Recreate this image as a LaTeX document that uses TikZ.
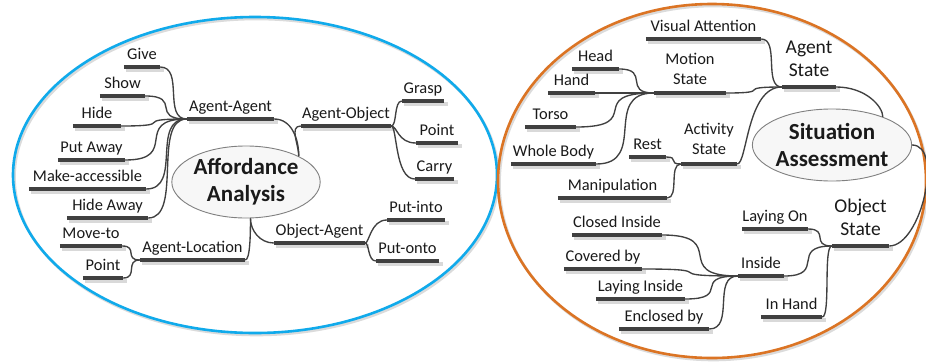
\documentclass[tikz,border=0pt]{standalone}
\usepackage{fontspec}
\setmainfont{Carlito}
\usetikzlibrary{shapes.geometric,calc}
\definecolor{barc}{HTML}{404040}
\definecolor{shadc}{HTML}{D9D9D9}
\definecolor{bluec}{HTML}{10AAEB}
\definecolor{orangec}{HTML}{DB7424}
\definecolor{txtc}{HTML}{1A1A1A}
\definecolor{rootfill}{HTML}{F7F7F7}
\newcommand{\fsN}{\fontsize{16.4}{20}\selectfont}
\newcommand{\fsL}{\fontsize{19.5}{23.5}\selectfont}
\newcommand{\fsB}{\bfseries\fontsize{23}{27}\selectfont}
\begin{document}
\begin{tikzpicture}[x=1pt,y=-1pt,
  barshadow/.style={draw=shadc, line width=4pt},
  barline/.style={draw=barc, line width=4.5pt},
  leaf/.style={font=\fsN, text=txtc, inner xsep=0pt, inner ysep=0pt,
    text depth=7.3pt, anchor=south, minimum width=#1, minimum height=0pt,
    append after command={
      ([xshift=2pt,yshift=-2.8pt]\tikzlastnode.south west) edge[barshadow]
      ([xshift=3.5pt,yshift=-2.8pt]\tikzlastnode.south east)
      (\tikzlastnode.south west) edge[barline] (\tikzlastnode.south east)}},
  two/.style={leaf=#1, align=center, text depth=8pt},
  big/.style={leaf=#1, align=center, font=\fsL, text depth=10pt},
  root/.style={ellipse, draw=black!50, line width=0.9pt, fill=rootfill,
    font=\fsB, text=txtc, align=center, inner sep=0pt},
  conn/.style={draw=barc, line width=1.35pt},
  mm/.style={to path={let \p1=(\tikztostart), \p2=(\tikztotarget),
    \n1={#1*(\x2-\x1)} in .. controls (\x1+\n1,\y1) and (\x2-\n1,\y2) .. (\tikztotarget)}},
  mm/.default=0.9,
  hv/.style 2 args={out=0,in=180,out distance=#1,in distance=#2}
]
\useasboundingbox (0,0) rectangle (926,362);
\fill[white] (0,0) rectangle (926,362);

% outer regions
\draw[black!14, line width=2.6pt] (256.5,177) ellipse [x radius=242, y radius=158];
\draw[bluec, line width=2.6pt] (255,175) ellipse [x radius=242, y radius=158];
\draw[black!14, line width=2.6pt] (713.5,183) ellipse [x radius=214, y radius=177];
\draw[orangec, line width=2.6pt] (712,181) ellipse [x radius=214, y radius=177];

% ---------- Affordance Analysis ----------
\node[root, minimum width=122, minimum height=72] (aff) at (246,182) {Affordance\\Analysis};

\node[leaf=36] (give) at (142,67) {Give};
\node[leaf=45] (show) at (122.5,96) {Show};
\node[leaf=48] (hide) at (97,126) {Hide};
\node[leaf=67] (putaway) at (91.5,160) {Put Away};
\node[leaf=117] (makeacc) at (87.5,189) {Make-accessible};
\node[leaf=81] (hideaway) at (107.5,218) {Hide Away};
\node[leaf=87] (aa) at (230.5,119) {Agent-Agent};
\node[leaf=90] (ao) at (346,126) {Agent-Object};
\node[leaf=42] (grasp) at (423,101) {Grasp};
\node[leaf=42] (pointa) at (437,143) {Point};
\node[leaf=39] (carry) at (434.5,179) {Carry};
\node[leaf=62] (moveto) at (91,246) {Move-to};
\node[leaf=40] (pointl) at (103,278) {Point};
\node[leaf=105] (al) at (192.5,260) {Agent-Location};
\node[leaf=91] (oa) at (319.5,243) {Object-Agent};
\node[leaf=58] (putinto) at (416,220) {Put-into};
\node[leaf=63] (putonto) at (407.5,261) {Put-onto};

\foreach \c in {give,show,hide,putaway,makeacc,hideaway}
  \draw[conn] (\c.south east) to[mm] (aa.south west);
\draw[conn] (aff.north east) to[out=90,in=0] (aa.south east);
\draw[conn] (aff.north east) to[out=90,in=180] (ao.south west);
\draw[conn] (ao.south east) to[hv={6pt}{8pt}] (grasp.south west);
\draw[conn] (ao.south east) to[hv={6pt}{18pt}] (pointa.south west);
\draw[conn] (ao.south east) to[hv={6pt}{20pt}] (carry.south west);
\draw[conn] (moveto.south east) to[mm] (al.south west);
\draw[conn] (pointl.south east) to[mm] (al.south west);
\draw[conn] (aff.-83) to[out=-90,in=0,out distance=15pt,in distance=5pt] (al.south east);
\draw[conn] (aff.-83) to[out=-90,in=180,out distance=12pt,in distance=14pt] (oa.south west);
\draw[conn] (oa.south east) to[hv={4pt}{16pt}] (putinto.south west);
\draw[conn] (oa.south east) to[hv={4pt}{8pt}] (putonto.south west);

% ---------- Situation Assessment ----------
\node[root, minimum width=158, minimum height=72] (sa) at (832,145) {Situation\\Assessment};

\node[leaf=115] (va) at (703.5,39) {Visual Attention};
\node[big=54] (as) at (809,87) {Agent\\State};
\node[leaf=47] (head) at (595.5,69) {Head};
\node[leaf=47] (hand) at (571.5,93) {Hand};
\node[two=72] (ms) at (690,93) {Motion\\State};
\node[leaf=51] (torso) at (550.5,127) {Torso};
\node[leaf=85] (wb) at (553.5,164) {Whole Body};
\node[leaf=37] (rest) at (647.5,157) {Rest};
\node[two=56, text depth=9pt] (acs) at (709,164) {Activity\\State};
\node[leaf=109] (manip) at (612.5,198) {Manipulation};
\node[leaf=90] (closed) at (617,235) {Closed Inside};
\node[leaf=78] (covered) at (603,269) {Covered by};
\node[leaf=89] (layin) at (640.5,299) {Laying Inside};
\node[leaf=90] (encl) at (664,329) {Enclosed by};
\node[leaf=46] (inside) at (761,276) {Inside};
\node[leaf=66] (layon) at (775,229) {Laying On};
\node[big=57] (os) at (860.5,246) {Object\\State};
\node[leaf=61] (inhand) at (791.5,317) {In Hand};

\draw[conn] (va.south east) to[mm] (as.south west);
\draw[conn] (ms.south east) to[mm] (as.south west);
\draw[conn] (acs.south east) to[hv={10pt}{35pt}] (as.south west);
\draw[conn] (sa.29) to[out=90,in=0,out distance=10pt,in distance=30pt] (as.south east);
\foreach \c in {head,hand,torso,wb}
  \draw[conn] (\c.south east) to[mm] (ms.south west);
\foreach \c in {rest,manip}
  \draw[conn] (\c.south east) to[mm] (acs.south west);
\foreach \c in {closed,covered,layin,encl}
  \draw[conn] (\c.south east) to[mm] (inside.south west);
\foreach \c in {layon,inside,inhand}
  \draw[conn] (\c.south east) to[mm] (os.south west);
\draw[conn] (sa.east) to[out=0,in=0,distance=32pt] (os.south east);
\end{tikzpicture}
\end{document}
